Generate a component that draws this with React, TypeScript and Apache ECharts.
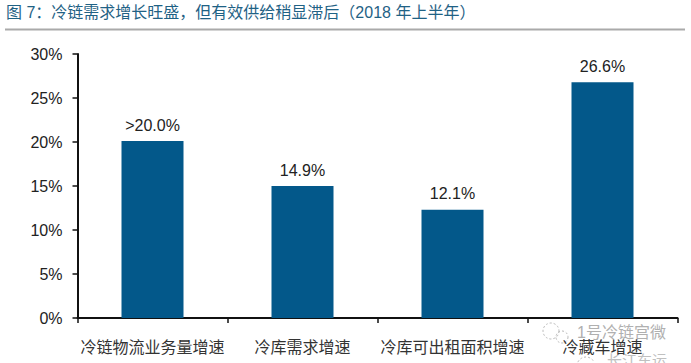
import React, { useEffect, useRef } from "react";
import * as echarts from "echarts";

const categories = ["冷链物流业务量增速", "冷库需求增速", "冷库可出租面积增速", "冷藏车增速"];
const barHeights = [20.1, 15.0, 12.3, 26.8];
const valueLabels = [">20.0%", "14.9%", "12.1%", "26.6%"];
const titleText = "图 7：冷链需求增长旺盛，但有效供给稍显滞后（2018 年上半年）";
const watermarkTop = "1号冷链宫微";
const watermarkBottom = "长江车运";

export default function App() {
  const ref = useRef<HTMLDivElement>(null);
  useEffect(() => {
    const chart = echarts.init(ref.current!, undefined, { renderer: "svg" });
    const font = '"Liberation Sans", "Noto Sans CJK SC", sans-serif';
    const dashed = { fill: "none", stroke: "#b8b8b8", lineWidth: 1, lineDash: [2, 2] };
    chart.setOption({
      animation: false,
      backgroundColor: "#ffffff",
      textStyle: { fontFamily: font },
      grid: { left: 77.5, right: 13.5, top: 54, bottom: 45 },
      xAxis: {
        type: "category",
        data: categories,
        axisLine: { lineStyle: { color: "#111", width: 2 } },
        axisTick: { show: true, length: 5, lineStyle: { color: "#111", width: 1.5 } },
        axisLabel: { color: "#333", fontSize: 16, margin: 21, interval: 0, fontFamily: font },
      },
      yAxis: {
        type: "value",
        min: 0,
        max: 30,
        interval: 5,
        axisLine: { show: true, lineStyle: { color: "#111", width: 2 } },
        axisTick: { show: true, length: 5, lineStyle: { color: "#111", width: 1.5 } },
        splitLine: { show: false },
        axisLabel: { color: "#222", fontSize: 16, margin: 15, formatter: "{value}%", fontFamily: font },
      },
      series: [
        {
          type: "bar",
          data: barHeights,
          barWidth: 62,
          itemStyle: { color: "#03588a" },
          label: {
            show: true,
            position: "top",
            distance: 8,
            color: "#222",
            fontSize: 16,
            fontFamily: font,
            formatter: (p: any) => valueLabels[p.dataIndex],
          },
        },
      ],
      graphic: [
        {
          type: "text",
          x: 6,
          y: 4,
          style: { text: titleText, fill: "#1f6285", font: `16px ${font}` },
        },
        {
          type: "line",
          shape: { x1: 5, y1: 29.5, x2: 685, y2: 29.5 },
          style: { stroke: "#aaaaaa", lineWidth: 2 },
        },
        { type: "circle", shape: { cx: 551, cy: 331, r: 8 }, style: dashed },
        { type: "circle", shape: { cx: 562, cy: 337, r: 6 }, style: dashed },
        { type: "arc", shape: { cx: 586, cy: 366, r: 9, startAngle: Math.PI, endAngle: Math.PI * 1.8 }, style: dashed },
        {
          type: "text",
          x: 577,
          y: 324,
          style: { text: watermarkTop, fill: "#b0b0b0", font: `16px ${font}` },
        },
        {
          type: "text",
          x: 607,
          y: 353,
          style: { text: watermarkBottom, fill: "#c0c0c0", font: `15px ${font}` },
        },
      ],
    });
    return () => chart.dispose();
  }, []);
  return <div ref={ref} style={{ position: "absolute", left: 0, top: 0, width: 691, height: 363 }} />;
}
